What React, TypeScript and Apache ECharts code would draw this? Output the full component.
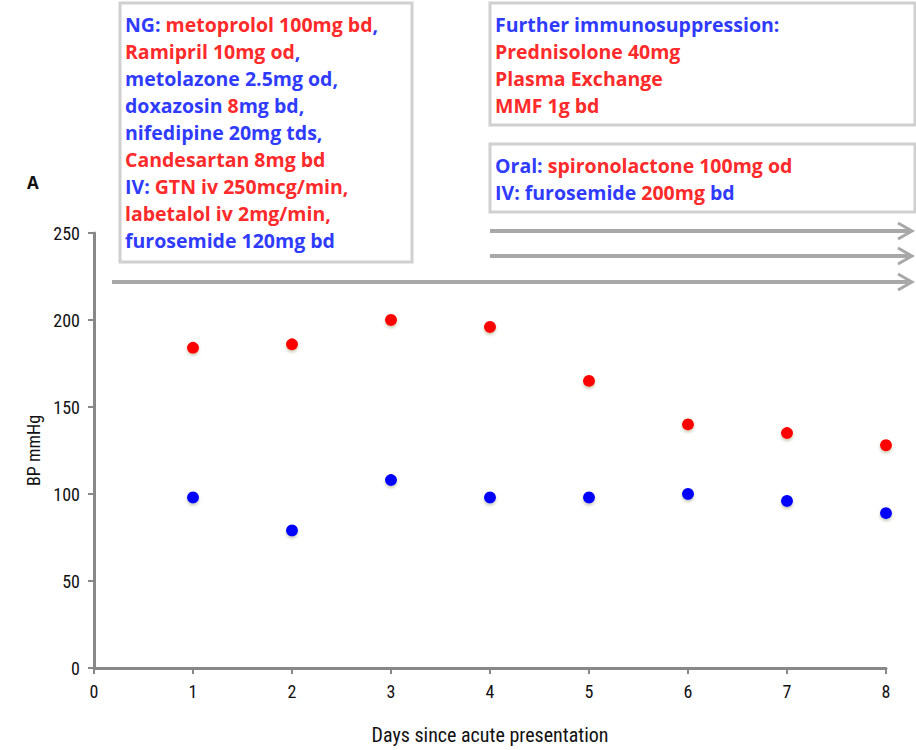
import React, { useEffect, useRef } from "react";
import * as echarts from "echarts";

const days = [1, 2, 3, 4, 5, 6, 7, 8];
const systolic = [184, 186, 200, 196, 165, 140, 135, 128];
const diastolic = [98, 79, 108, 98, 98, 100, 96, 89];
const xTicks = [0, 1, 2, 3, 4, 5, 6, 7, 8];
const yTicks = [0, 50, 100, 150, 200, 250];

const box1Lines = [
  "{b|NG: }{r|metoprolol 100mg bd}{b|,}",
  "{r|Ramipril 10mg od}{b|,}",
  "{b|metolazone 2.5mg od,}",
  "{b|doxazosin }{r|8}{b|mg bd,}",
  "{b|nifedipine 20mg tds,}",
  "{r|Candesartan 8mg bd}",
  "{b|IV: }{r|GTN iv 250mcg/min,}",
  "{r|labetalol iv 2mg/min,}",
  "{b|furosemide 120mg bd}",
];
const box2Lines = [
  "{b|Further immunosuppression:}",
  "{r|Prednisolone 40mg}",
  "{r|Plasma Exchange}",
  "{r|MMF 1g bd}",
];
const box3Lines = [
  "{b|Oral: }{r|spironolactone 100mg od}",
  "{b|IV: furosemide }{r|200mg }{b|bd}",
];

const FONT = "'Open Sans', sans-serif";
const NARROW = "'Liberation Sans Narrow', 'Roboto Condensed', 'Liberation Sans', sans-serif";
const BLUE = "#2f3cff";
const RED = "#ff2a2a";
const FS = 19.5;

const rich = {
  b: { fill: BLUE, fontSize: FS, fontWeight: "bold", fontFamily: FONT, lineHeight: 27 },
  r: { fill: RED, fontSize: FS, fontWeight: "bold", fontFamily: FONT, lineHeight: 27 },
};

function box(x: number, y: number, w: number, h: number, lines: string[]) {
  return [
    {
      type: "rect",
      shape: { x, y, width: w, height: h },
      style: { fill: "#fff", stroke: "#d0d0d0", lineWidth: 3 },
      z: 10,
    },
    {
      type: "text",
      x: x + 5,
      y: y + 8,
      style: { text: lines.join("\n"), rich, fontFamily: FONT, fontSize: FS, lineHeight: 27 },
      z: 11,
    },
  ];
}

function arrow(x1: number, x2: number, y: number) {
  return [
    {
      type: "line",
      shape: { x1, y1: y, x2: x2 - 2, y2: y },
      style: { stroke: "#a8a8a8", lineWidth: 4 },
      z: 5,
    },
    {
      type: "polyline",
      shape: { points: [[x2 - 14, y - 8], [x2, y], [x2 - 14, y + 8]] },
      style: { stroke: "#a8a8a8", lineWidth: 3, fill: "none" },
      z: 5,
    },
  ];
}

export default function App() {
  const ref = useRef<HTMLDivElement>(null);
  useEffect(() => {
    document.body.style.margin = "0";
    const chart = echarts.init(ref.current!, null, { renderer: "svg" });
    const markerShadow = { shadowBlur: 3, shadowColor: "rgba(150,150,110,0.5)", shadowOffsetY: 2 };
    chart.setOption({
      animation: false,
      backgroundColor: "#fff",
      grid: { left: 94, right: 30, top: 233, bottom: 81 },
      xAxis: {
        type: "value",
        min: xTicks[0],
        max: xTicks[xTicks.length - 1],
        interval: 1,
        name: "Days since acute presentation",
        nameLocation: "middle",
        nameGap: 57,
        nameTextStyle: { fontFamily: NARROW, fontSize: 20, color: "#111" },
        axisLine: { lineStyle: { color: "#888", width: 3 } },
        axisTick: { show: true, length: 6, lineStyle: { color: "#888", width: 2 } },
        axisLabel: { fontFamily: NARROW, fontSize: 18, color: "#111", margin: 14 },
        splitLine: { show: false },
      },
      yAxis: {
        type: "value",
        min: yTicks[0],
        max: yTicks[yTicks.length - 1],
        interval: 50,
        name: "BP mmHg",
        nameLocation: "middle",
        nameGap: 42,
        nameRotate: 90,
        nameTextStyle: { fontFamily: NARROW, fontSize: 18, color: "#111" },
        axisLine: { show: true, lineStyle: { color: "#888", width: 3 } },
        axisTick: { show: true, length: 6, lineStyle: { color: "#888", width: 2 } },
        axisLabel: { fontFamily: NARROW, fontSize: 18, color: "#111", margin: 14 },
        splitLine: { show: false },
      },
      series: [
        {
          type: "scatter",
          name: "Systolic",
          data: days.map((d, i) => [d, systolic[i]]),
          symbol: "circle",
          symbolSize: 12,
          itemStyle: { color: "#ff0000", opacity: 1, ...markerShadow },
          z: 3,
        },
        {
          type: "scatter",
          name: "Diastolic",
          data: days.map((d, i) => [d, diastolic[i]]),
          symbol: "circle",
          symbolSize: 12,
          itemStyle: { color: "#0000ff", opacity: 1, ...markerShadow },
          z: 3,
        },
      ],
      graphic: [
        ...arrow(490, 912, 231),
        ...arrow(490, 912, 256),
        ...arrow(112, 912, 282),
        ...box(120, 3, 292, 259, box1Lines),
        ...box(490, 3, 425, 122, box2Lines),
        ...box(490, 144, 425, 68, box3Lines),
        {
          type: "text",
          x: 27,
          y: 174,
          style: { text: "A", fontFamily: FONT, fontSize: 17, fontWeight: "bold", fill: "#111" },
        },
      ],
    });
    return () => chart.dispose();
  }, []);
  return <div ref={ref} style={{ width: 916, height: 750 }} />;
}
